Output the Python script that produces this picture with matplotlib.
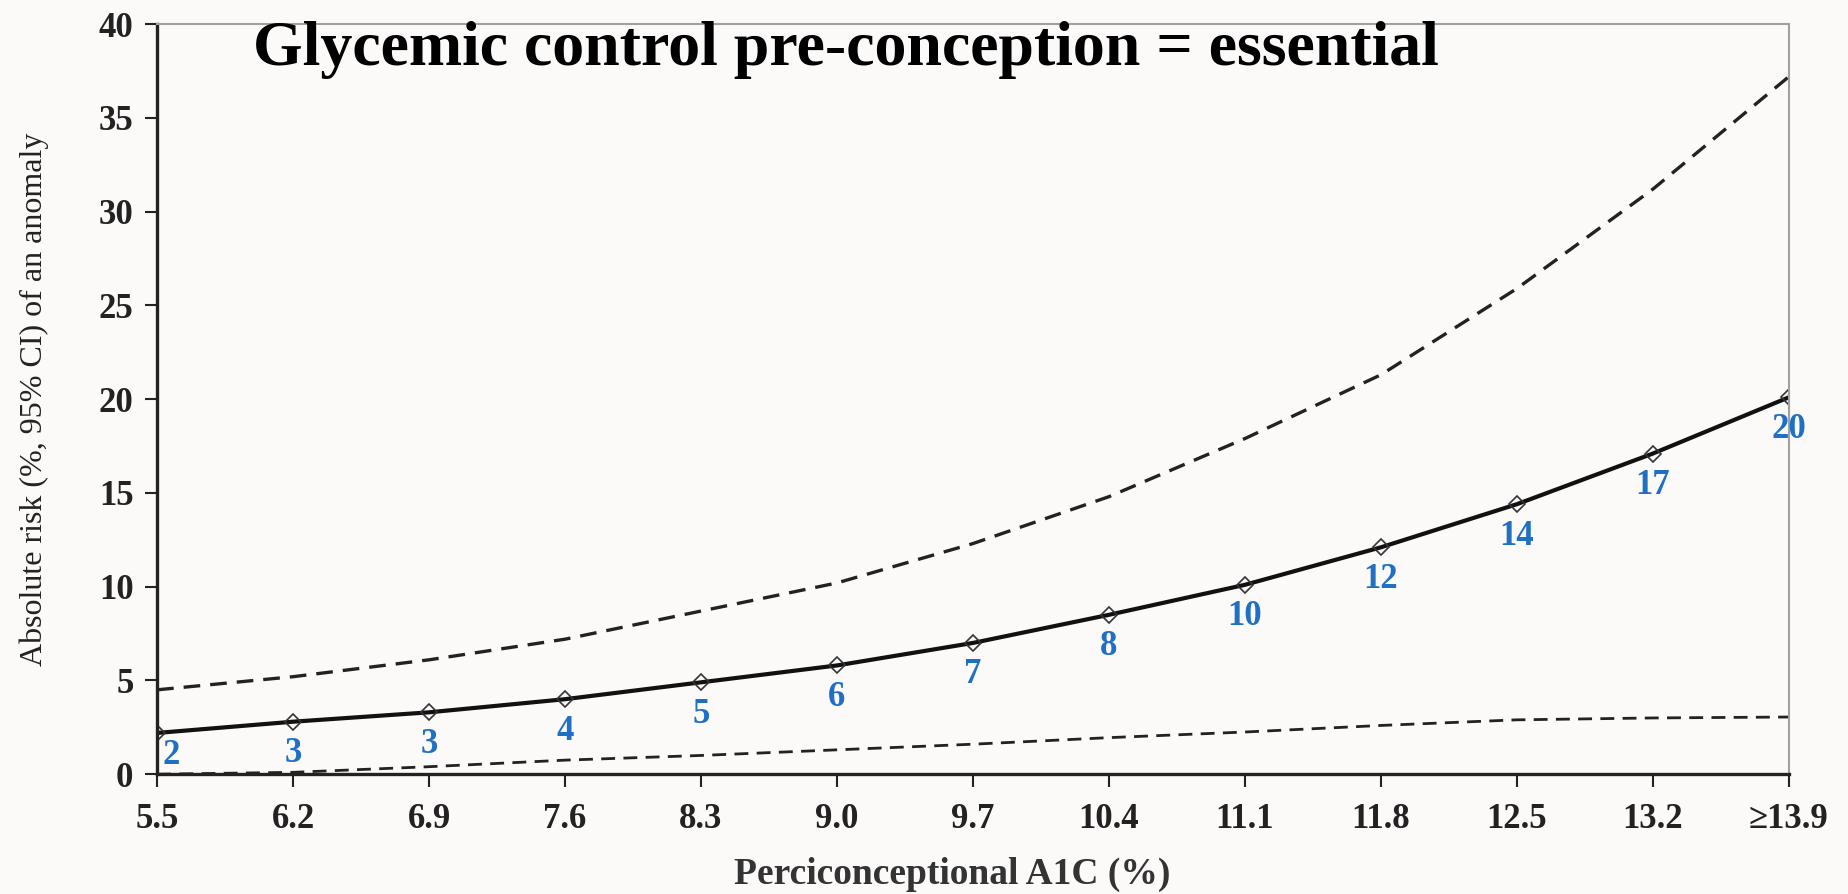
import matplotlib
matplotlib.use("Agg")
from matplotlib import pyplot as plt

# A1C categories on the x axis
a1c_labels = ["5.5", "6.2", "6.9", "7.6", "8.3", "9.0", "9.7",
              "10.4", "11.1", "11.8", "12.5", "13.2", "\u226513.9"]

# absolute risk (%) and 95% CI bounds
risk = [2.2, 2.8, 3.3, 4.0, 4.9, 5.8, 7.0, 8.5, 10.1, 12.1, 14.4, 17.1, 20.1]
upper_ci = [4.5, 5.2, 6.1, 7.2, 8.7, 10.2, 12.3, 14.8, 17.9, 21.3, 25.9, 31.2, 37.2]
lower_ci = [0.0, 0.1, 0.4, 0.75, 1.0, 1.3, 1.6, 1.95, 2.25, 2.6, 2.9, 3.0, 3.05]

# rounded risk numbers written under each point
risk_labels = ["2", "3", "3", "4", "5", "6", "7", "8", "10", "12", "14", "17", "20"]

bg = "#fcf9f9"
blue = "#1f6fc4"
serif = ["Liberation Serif", "DejaVu Serif"]

fig = plt.figure(figsize=(18.48, 8.94), dpi=100, facecolor=bg)
ax = fig.add_axes([0.085, 0.134, 0.883, 0.839], facecolor=bg)

x = list(range(len(a1c_labels)))

ax.plot(x, upper_ci, color="#222222", linestyle=(0, (5, 3)), linewidth=2.4)
ax.plot(x, lower_ci, color="#222222", linestyle=(0, (5, 3)), linewidth=2.0)
ax.plot(x, risk, color="#111111", linewidth=3, marker="D", markersize=8,
        markerfacecolor="none", markeredgecolor="#333333", markeredgewidth=1.2)

for i, lab in enumerate(risk_labels):
    dx = 10 if i == 0 else 0
    dy = -16 if i == 0 else -23
    ax.annotate(lab, (x[i], risk[i]), xytext=(dx, dy), textcoords="offset points",
                ha="center", va="center", color=blue, fontsize=25,
                fontweight="bold", family=serif)

ax.set_xlim(0, 12)
ax.set_ylim(0, 40)
ax.set_xticks(x)
ax.set_xticklabels(a1c_labels)
ax.set_yticks(range(0, 41, 5))

for lab in ax.get_xticklabels() + ax.get_yticklabels():
    lab.set_family(serif)
    lab.set_fontweight("bold")
    lab.set_fontsize(25)
    lab.set_color("#222222")

ax.tick_params(axis="both", direction="out", length=9, width=1.5, color="#222222")
ax.tick_params(axis="x", pad=12)
ax.tick_params(axis="y", pad=8)

for side in ["left", "bottom"]:
    ax.spines[side].set_linewidth(2.4)
    ax.spines[side].set_color("#222222")
for side in ["top", "right"]:
    ax.spines[side].set_linewidth(1.5)
    ax.spines[side].set_color("#a0a0a0")

ax.set_xlabel("Perciconceptional A1C (%)", family=serif, fontweight="bold",
              fontsize=27, color="#333333")
ax.xaxis.set_label_coords(0.487, -0.11)
ax.set_ylabel("Absolute risk (%, 95% CI) of an anomaly", family=serif,
              fontsize=23, color="#222222")
ax.yaxis.set_label_coords(-0.066, 0.5)

fig.text(0.137, 0.944, "Glycemic control pre-conception = essential",
         family=serif, fontweight="bold", fontsize=46, color="black",
         ha="left", va="center")

fig.savefig("out.png", dpi=100, facecolor=bg)
